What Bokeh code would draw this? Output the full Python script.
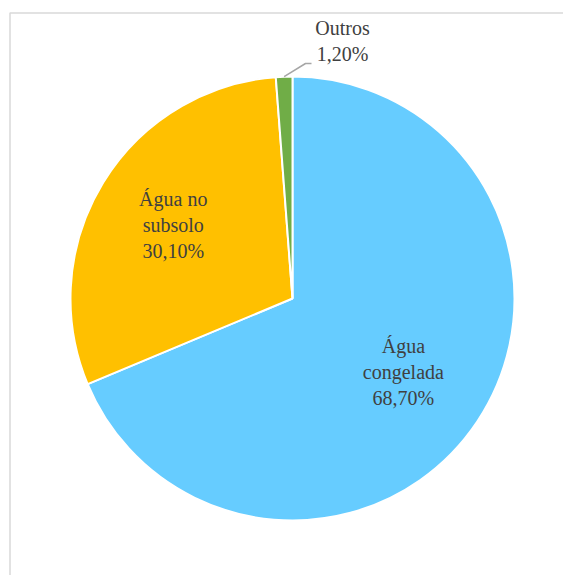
import math
from bokeh.plotting import figure
from bokeh.models import ColumnDataSource
from bokeh.core.properties import value
from bokeh.embed import file_html
from bokeh.resources import INLINE

# ---- data ----
categories = ["Água congelada", "Água no subsolo", "Outros"]
percent = [68.70, 30.10, 1.20]
colors = ["#66CCFF", "#FFC000", "#70AD47"]
label_lines = [["Água", "congelada", "68,70%"], ["Água no", "subsolo", "30,10%"], ["Outros", "1,20%"]]

W, H = 563, 575
cx, cy, R = 292, H - 298, 222
LINE_H = 26

# slices go clockwise from 12 o'clock
total = sum(percent)
starts, ends = [], []
a = math.pi / 2
for v in percent:
    sweep = v / total * 2 * math.pi
    ends.append(a)
    starts.append(a - sweep)
    a -= sweep
mids = [(s + e) / 2 for s, e in zip(starts, ends)]

p = figure(width=W, height=H, x_range=(0, W), y_range=(0, H),
           output_backend="svg", toolbar_location=None, min_border=0)
p.axis.visible = False
p.grid.visible = False
p.outline_line_color = None
p.background_fill_color = "white"
p.border_fill_color = "white"

# chart-area frame
p.quad(left=[9.5], right=[W + 20], top=[H - 12.5], bottom=[-20],
       fill_color=None, line_color="#D9D9D9", line_width=1.5)

src = ColumnDataSource(dict(start=starts, end=ends, color=colors, cat=categories))
p.wedge(x=cx, y=cy, radius=R, start_angle="start", end_angle="end",
        fill_color="color", line_color="white", line_width=2, source=src)

# label anchors: inside for large slices, outside for the small one
label_r = [0.60, 0.63]
ax, ay = [], []
for i in range(2):
    ax.append(cx + label_r[i] * R * math.cos(mids[i]))
    ay.append(cy + label_r[i] * R * math.sin(mids[i]))
ax.append(342)
ay.append(H - 40)

tx, ty, tt, toff = [], [], [], []
for i, lines in enumerate(label_lines):
    n = len(lines)
    for j, s in enumerate(lines):
        tx.append(ax[i])
        ty.append(ay[i])
        tt.append(s)
        toff.append((j - (n - 1) / 2) * LINE_H)

tsrc = ColumnDataSource(dict(x=tx, y=ty, text=tt, yoff=toff))
p.text(x="x", y="y", text="text", y_offset="yoff", source=tsrc,
       text_font=value("Liberation Serif"),
       text_font_size="20px", text_color="#404040", text_align="center",
       text_baseline="middle")

# leader line for "Outros"
ex = cx + R * math.cos(mids[2])
ey = cy + R * math.sin(mids[2])
p.line(x=[ex, 305, 311], y=[ey, H - 63, H - 63], line_color="#A6A6A6", line_width=1.5)

open("out.html", "w").write(file_html(p, INLINE))
